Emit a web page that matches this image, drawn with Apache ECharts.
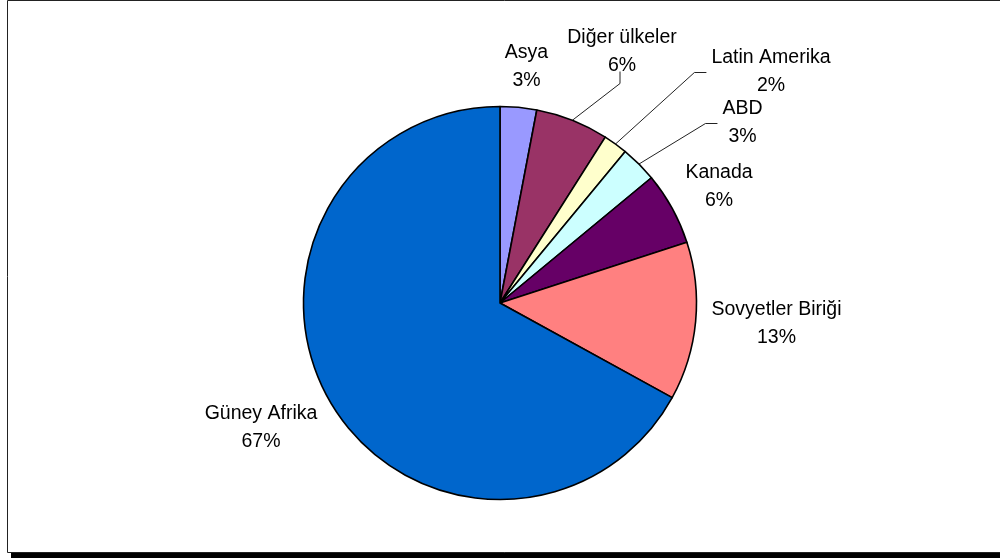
<!DOCTYPE html>
<html>
<head>
<meta charset="utf-8">
<title>Pay dağılımı</title>
<script src="https://cdn.jsdelivr.net/npm/echarts@6/dist/echarts.min.js"></script>
<style>
  html, body { margin: 0; padding: 0; background: #fff; }
  #chart { width: 1000px; height: 558px; }
</style>
</head>
<body>
<div id="chart"></div>
<script>
// Share of each region (percent), clockwise from 12 o'clock
const regions = ['Asya', 'Diğer ülkeler', 'Latin Amerika', 'ABD', 'Kanada', 'Sovyetler Biriği', 'Güney Afrika'];
const shares = [3, 6, 2, 3, 6, 13, 67];
const sliceColors = ['#9999FF', '#993366', '#FFFFCC', '#CCFFFF', '#660066', '#FF8080', '#0066CC'];

// Pie geometry
const PIE_CX = 500, PIE_CY = 303, PIE_R = 196.5;

// Label block centre, as an offset from the pie centre
const labelOffsets = [
  [26.5, -236.5],
  [122, -251.5],
  [271, -231.5],
  [242.5, -180.5],
  [219, -116],
  [276.5, 20.5],
  [-239, 125]
];
// Leader line style per slice: null = no line, 'up' = elbow under the label, 'side' = elbow left of the label
const leaderKinds = [null, 'up', 'side', 'side', null, null, null];

// mid-angle of each slice (radians, clockwise from top)
const total = shares.reduce((a, b) => a + b, 0);
const midAngles = [];
let acc = 0;
shares.forEach(v => { midAngles.push((acc + v / 2) / total * Math.PI * 2); acc += v; });

const chart = echarts.init(document.getElementById('chart'), null, { renderer: 'canvas' });

const option = {
  animation: false,
  backgroundColor: '#fff',
  graphic: [
    { type: 'rect', z: -10, silent: true, shape: { x: 11, y: 6, width: 1000, height: 552 }, style: { fill: '#000' } },
    { type: 'rect', z: -9, silent: true, shape: { x: 7.5, y: 0.5, width: 1000, height: 552 }, style: { fill: '#fff', stroke: '#222', lineWidth: 1 } }
  ],
  series: [{
    type: 'pie',
    center: [PIE_CX, PIE_CY],
    radius: PIE_R,
    startAngle: 90,
    clockwise: true,
    percentPrecision: 0,
    avoidLabelOverlap: false,
    emphasis: { disabled: true },
    itemStyle: { borderColor: '#000', borderWidth: 1.6 },
    label: {
      show: true,
      position: 'outside',
      formatter: '{b}\n{d}%',
      fontFamily: '"Liberation Sans", Arial, sans-serif',
      fontSize: 19.5,
      lineHeight: 28,
      color: '#000',
      align: 'center'
    },
    labelLine: { show: true, length: 10, length2: 10, smooth: false, lineStyle: { color: '#222', width: 1 } },
    labelLayout: function (p) {
      const i = p.dataIndex;
      const off = labelOffsets[i];
      const x = PIE_CX + off[0];
      const y = PIE_CY + off[1];
      const w = p.labelRect.width, h = p.labelRect.height;
      const out = { x: x, y: y, align: 'center', verticalAlign: 'middle' };
      const a = midAngles[i];
      const start = [PIE_CX + PIE_R * Math.sin(a), PIE_CY - PIE_R * Math.cos(a)];
      if (leaderKinds[i] === 'up') {
        const end = [x - 2, y + h / 2 - 8];
        out.labelLinePoints = [start, [end[0], end[1] + 12], end];
      } else if (leaderKinds[i] === 'side') {
        const end = [x - w / 2 - 5, y + 1];
        out.labelLinePoints = [start, [end[0] - 12, end[1]], end];
      }
      return out;
    },
    data: regions.map((name, i) => ({
      name: name,
      value: shares[i],
      itemStyle: { color: sliceColors[i] },
      labelLine: { show: leaderKinds[i] !== null }
    }))
  }]
};

chart.setOption(option);
</script>
</body>
</html>
